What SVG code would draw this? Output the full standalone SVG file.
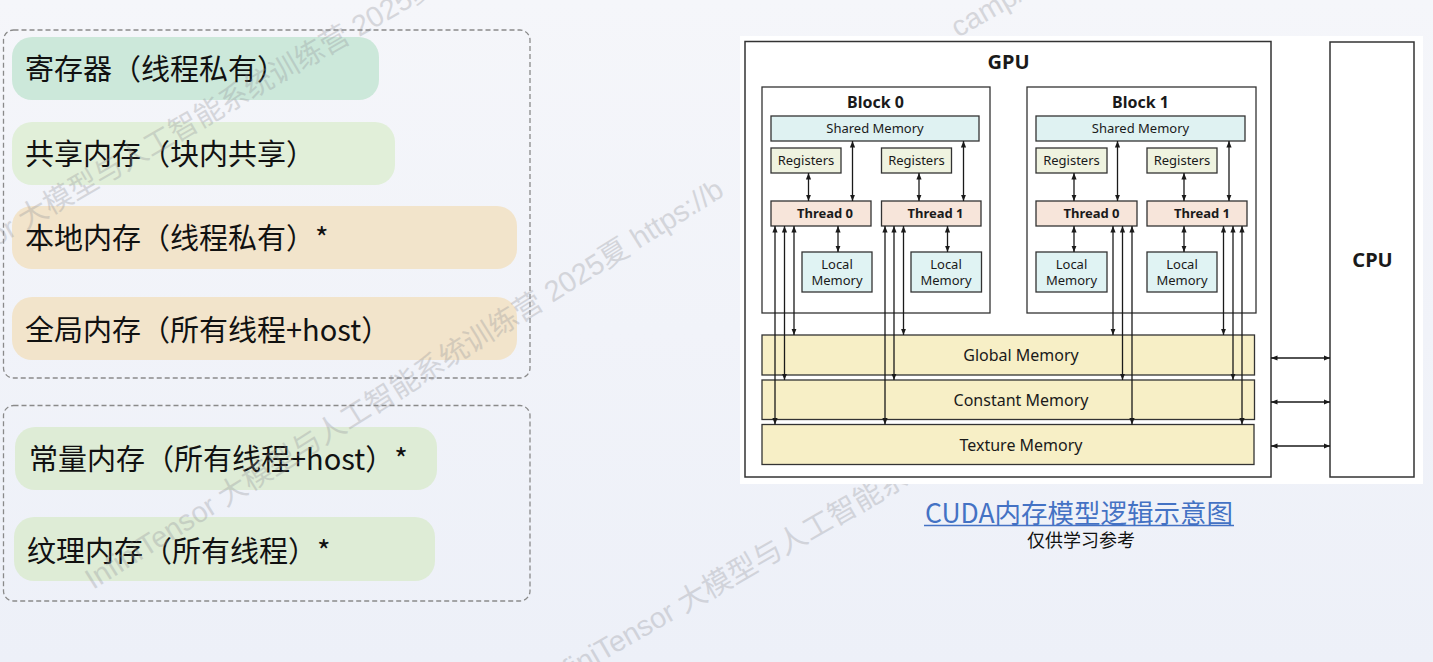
<svg xmlns="http://www.w3.org/2000/svg" width="1433" height="662" viewBox="0 0 1433 662">
<defs>
<linearGradient id="bg" x1="0" y1="0" x2="0" y2="1">
<stop offset="0" stop-color="#f5f6fa"/>
<stop offset="1" stop-color="#edf0f8"/>
</linearGradient>
<marker id="ah" viewBox="0 0 10 10" refX="10" refY="5" markerWidth="6.5" markerHeight="6.5" markerUnits="userSpaceOnUse" orient="auto-start-reverse">
<path d="M0,1 L10,5 L0,9 z" fill="#1a1a1a"/>
</marker>
<style>
.dash{fill:none;stroke:#8a8a8a;stroke-width:1.3;stroke-dasharray:5 3}
.pill-t{font-family:"Noto Sans CJK SC","Noto Sans",sans-serif;font-size:29px;fill:#111}
.wm{font-family:"Liberation Sans","Noto Sans CJK SC",sans-serif;font-size:29px;fill:#8f9096;opacity:0.3}
.box{stroke:#333;stroke-width:1.3}
.frame{fill:#fff;stroke:#333;stroke-width:1.5}
.sh{fill:#dff2f2}
.rg{fill:#eff3e0}
.th{fill:#f7e5da}
.lm{fill:#e0f3f3}
.mem{fill:#f7efc6}
.t{font-family:"Noto Sans","Open Sans",sans-serif;fill:#1a1a1a;text-anchor:middle}
.s13{font-size:13px}
.b13{font-size:13px;font-weight:bold}
.b16{font-size:16px;font-weight:bold}
.b20{font-size:20px;font-weight:bold}
.m16{font-size:16px}
.ar{stroke:#1a1a1a;stroke-width:1.3;fill:none;marker-start:url(#ah);marker-end:url(#ah)}
.cap{font-family:"Noto Sans CJK SC","Noto Sans",sans-serif;text-anchor:middle}
</style>
</defs>

<rect x="0" y="0" width="1433" height="662" fill="url(#bg)"/>

<g id="group-private-shared">
<rect class="dash" x="3.5" y="30" width="526.5" height="348" rx="10"/>
<g id="registers">
<rect x="12" y="37" width="367" height="63" rx="20" fill="#cce8da"/>
<text class="pill-t" x="25" y="80">寄存器（线程私有）</text>
</g>
<g id="shared">
<rect x="12" y="122" width="383" height="63" rx="20" fill="#e1efd9"/>
<text class="pill-t" x="25" y="164.5">共享内存（块内共享）</text>
</g>
<g id="local">
<rect x="12" y="206" width="505" height="63" rx="20" fill="#f2e4cb"/>
<text class="pill-t" x="25" y="249">本地内存（线程私有）*</text>
</g>
<g id="global">
<rect x="12" y="297" width="505" height="63" rx="20" fill="#f2e4cb"/>
<text class="pill-t" x="25" y="340.5">全局内存（所有线程+host）</text>
</g>
</g>

<g id="group-readonly">
<rect class="dash" x="3.5" y="405.5" width="526.5" height="195.5" rx="10"/>
<g id="constant">
<rect x="15" y="427" width="422" height="63" rx="20" fill="#deecd6"/>
<text class="pill-t" x="29" y="469.5">常量内存（所有线程+host）*</text>
</g>
<g id="texture">
<rect x="14" y="517" width="421" height="64" rx="20" fill="#deecd6"/>
<text class="pill-t" x="27" y="561.5">纹理内存（所有线程）*</text>
</g>
</g>

<g id="watermark">
<text class="wm" transform="translate(-110,308) rotate(-30)">InfiniTensor 大模型与人工智能系统训练营 2025夏</text>
<text class="wm" transform="translate(93,590) rotate(-32)">InfiniTensor 大模型与人工智能系统训练营 2025夏 https://b</text>
<text class="wm" transform="translate(549,692) rotate(-30)">InfiniTensor 大模型与人工智能系</text>
<text class="wm" transform="translate(958,38) rotate(-30)">camp/s</text>
</g>

<g id="cuda-figure">
<rect x="740" y="36" width="683" height="448" fill="#fff"/>

<g id="gpu">
<rect class="frame" x="745" y="41.5" width="526" height="435.5"/>
<text class="t b20" x="1008.5" y="69">GPU</text>
</g>
<g id="cpu">
<rect class="frame" x="1330" y="42" width="84" height="435"/>
<text class="t b20" x="1372.5" y="267">CPU</text>
</g>

<g id="block0">
<rect class="box" fill="#fff" x="762" y="87" width="228" height="226"/>
<text class="t b16" x="875.5" y="107.5">Block 0</text>
<g id="b0-shared"><rect class="box sh" x="771" y="116" width="208" height="25"/><text class="t s13" x="875" y="132.5">Shared Memory</text></g>
<g id="b0-reg0"><rect class="box rg" x="771" y="148" width="70" height="25"/><text class="t s13" x="806" y="164.5">Registers</text></g>
<g id="b0-reg1"><rect class="box rg" x="881.5" y="148" width="70" height="25"/><text class="t s13" x="916.5" y="164.5">Registers</text></g>
<g id="b0-thread0"><rect class="box th" x="771" y="201" width="100" height="25"/><text class="t b13" x="825" y="218">Thread 0</text></g>
<g id="b0-thread1"><rect class="box th" x="881.5" y="201" width="99.5" height="25"/><text class="t b13" x="935.5" y="218">Thread 1</text></g>
<g id="b0-local0"><rect class="box lm" x="802" y="252" width="70" height="40"/><text class="t s13" x="837" y="269">Local</text><text class="t s13" x="837" y="285">Memory</text></g>
<g id="b0-local1"><rect class="box lm" x="911" y="252" width="70.5" height="40"/><text class="t s13" x="946" y="269">Local</text><text class="t s13" x="946" y="285">Memory</text></g>
</g>

<g id="block1">
<rect class="box" fill="#fff" x="1027" y="87" width="229" height="226"/>
<text class="t b16" x="1140.5" y="107.5">Block 1</text>
<g id="b1-shared"><rect class="box sh" x="1036" y="116" width="209" height="25"/><text class="t s13" x="1140.5" y="132.5">Shared Memory</text></g>
<g id="b1-reg0"><rect class="box rg" x="1036" y="148" width="71" height="25"/><text class="t s13" x="1071.5" y="164.5">Registers</text></g>
<g id="b1-reg1"><rect class="box rg" x="1147" y="148" width="70" height="25"/><text class="t s13" x="1182" y="164.5">Registers</text></g>
<g id="b1-thread0"><rect class="box th" x="1036" y="201" width="101" height="25"/><text class="t b13" x="1091.5" y="218">Thread 0</text></g>
<g id="b1-thread1"><rect class="box th" x="1147" y="201" width="100" height="25"/><text class="t b13" x="1202" y="218">Thread 1</text></g>
<g id="b1-local0"><rect class="box lm" x="1036" y="252" width="71" height="40"/><text class="t s13" x="1071.5" y="269">Local</text><text class="t s13" x="1071.5" y="285">Memory</text></g>
<g id="b1-local1"><rect class="box lm" x="1147" y="252" width="70" height="40"/><text class="t s13" x="1182" y="269">Local</text><text class="t s13" x="1182" y="285">Memory</text></g>
</g>

<g id="global-memory"><rect class="box mem" x="762" y="335" width="492.5" height="40"/><text class="t m16" x="1021" y="361">Global Memory</text></g>
<g id="constant-memory"><rect class="box mem" x="762" y="380" width="492.5" height="39.5"/><text class="t m16" x="1021" y="406">Constant Memory</text></g>
<g id="texture-memory"><rect class="box mem" x="762" y="424.5" width="492" height="40"/><text class="t m16" x="1021" y="451">Texture Memory</text></g>

<g id="connectors">
<line class="ar" x1="808.5" y1="173" x2="808.5" y2="201"/>
<line class="ar" x1="852.5" y1="141" x2="852.5" y2="201"/>
<line class="ar" x1="919" y1="173" x2="919" y2="201"/>
<line class="ar" x1="963.5" y1="141" x2="963.5" y2="201"/>
<line class="ar" x1="838" y1="226" x2="838" y2="252"/>
<line class="ar" x1="947.5" y1="226" x2="947.5" y2="252"/>

<line class="ar" x1="1074" y1="173" x2="1074" y2="201"/>
<line class="ar" x1="1117.5" y1="141" x2="1117.5" y2="201"/>
<line class="ar" x1="1184" y1="173" x2="1184" y2="201"/>
<line class="ar" x1="1229" y1="141" x2="1229" y2="201"/>
<line class="ar" x1="1074" y1="226" x2="1074" y2="252"/>
<line class="ar" x1="1184" y1="226" x2="1184" y2="252"/>

<line class="ar" x1="775" y1="226" x2="775" y2="424.5"/>
<line class="ar" x1="784.5" y1="226" x2="784.5" y2="380"/>
<line class="ar" x1="794" y1="226" x2="794" y2="335"/>
<line class="ar" x1="885" y1="226" x2="885" y2="424.5"/>
<line class="ar" x1="894" y1="226" x2="894" y2="380"/>
<line class="ar" x1="903.5" y1="226" x2="903.5" y2="335"/>

<line class="ar" x1="1113" y1="226" x2="1113" y2="335"/>
<line class="ar" x1="1122.5" y1="226" x2="1122.5" y2="380"/>
<line class="ar" x1="1132" y1="226" x2="1132" y2="424.5"/>
<line class="ar" x1="1223.5" y1="226" x2="1223.5" y2="335"/>
<line class="ar" x1="1233" y1="226" x2="1233" y2="380"/>
<line class="ar" x1="1242" y1="226" x2="1242" y2="424.5"/>

<line class="ar" x1="1271" y1="358" x2="1330" y2="358"/>
<line class="ar" x1="1271" y1="402" x2="1330" y2="402"/>
<line class="ar" x1="1271" y1="446" x2="1330" y2="446"/>
</g>
</g>

<g id="caption">
<text class="cap" x="1079" y="522.5" font-size="26.5" fill="#4472c4">CUDA内存模型逻辑示意图</text>
<line x1="924" y1="525.5" x2="1234" y2="525.5" stroke="#4472c4" stroke-width="1.3"/>
<text class="cap" x="1081" y="547" font-size="18" fill="#111">仅供学习参考</text>
</g>
</svg>
